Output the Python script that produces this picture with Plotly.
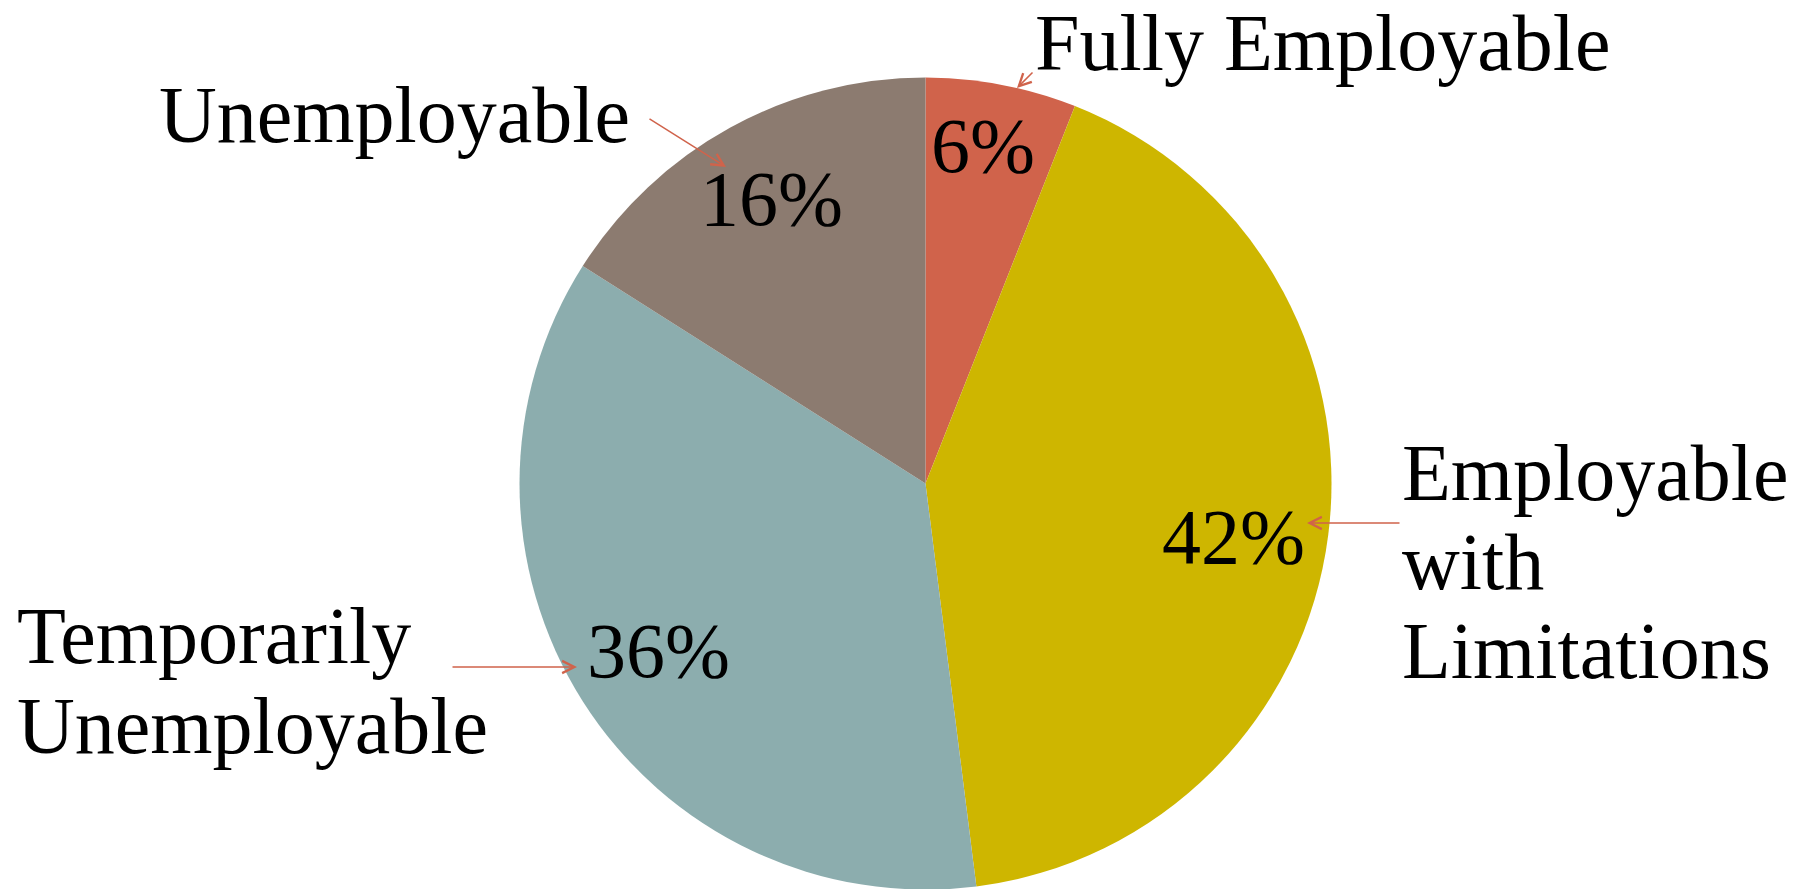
import plotly.graph_objects as go

W, H = 1814, 889
OFF = 8  # the page body margin shifts the figure by this many pixels

categories = ["Fully Employable", "Employable with Limitations",
              "Temporarily Unemployable", "Unemployable"]
values = [6, 42, 36, 16]
colors = ["#D0634B", "#CEB600", "#8CADAE", "#8C7B70"]
label_lines = [["Fully Employable"], ["Employable", "with", "Limitations"],
               ["Temporarily", "Unemployable"], ["Unemployable"]]

# layout positions in page pixels (left x, baseline y of first line)
label_pos = [(1033, 70), (1400, 500), (15, 663), (157, 142)]
line_gap = [0, 89, 90, 0]
pct_pos = [(983, 172), (1233, 563), (658, 677), (771, 225)]
# arrows: (head x, head y, tail x, tail y) in page pixels
arrows = [(1017, 88, 1034, 71), (1307, 523, 1401, 523),
          (577, 667, 451, 667), (726, 167, 648, 118)]
pie_center = (925.5, 483.6)
pie_radius = 406

FONT = "Liberation Serif, Times New Roman, serif"
LBL = 80
PCT = 78

def px(x):
    return (x - OFF) / W

def py(y):
    return 1 - (y - OFF) / H

cx, cy = pie_center
fig = go.Figure(go.Pie(
    labels=categories, values=values, sort=False, direction="clockwise",
    rotation=0, marker=dict(colors=colors, line=dict(width=0)),
    textinfo="none", hoverinfo="label+percent", showlegend=False,
    domain=dict(x=[px(cx - pie_radius), px(cx + pie_radius)],
                y=[py(cy + pie_radius), py(cy - pie_radius)]),
))

ann = []
for lines, (lx, ly), gap in zip(label_lines, label_pos, line_gap):
    for i, t in enumerate(lines):
        b = ly + i * gap
        ann.append(dict(text=t, x=px(lx), y=py(b - 0.3375 * LBL), xref="paper", yref="paper",
                        xanchor="left", yanchor="middle", showarrow=False,
                        font=dict(family=FONT, size=LBL, color="black")))
for v, (tx, by) in zip(values, pct_pos):
    ann.append(dict(text=f"{v}%", x=px(tx), y=py(by - 0.3375 * PCT), xref="paper", yref="paper",
                    xanchor="center", yanchor="middle", showarrow=False,
                    font=dict(family=FONT, size=PCT, color="black")))
for hx, hy, tx, ty in arrows:
    ann.append(dict(text="", x=px(hx), y=py(hy), xref="paper", yref="paper",
                    ax=tx - hx, ay=ty - hy, axref="pixel", ayref="pixel",
                    showarrow=True, arrowhead=5, arrowsize=1.6, arrowwidth=1.5,
                    arrowcolor="#D0634B", standoff=0, startstandoff=0))

fig.update_layout(width=W, height=H, margin=dict(l=0, r=0, t=0, b=0),
                  paper_bgcolor="white", plot_bgcolor="white",
                  annotations=ann)
fig.write_html("out.html")
